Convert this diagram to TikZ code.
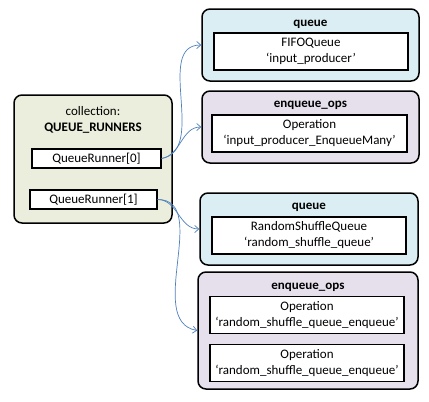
\documentclass[tikz,border=0pt]{standalone}
\usepackage{fontspec}
\setmainfont{Carlito}
\usetikzlibrary{arrows.meta}
\definecolor{collfill}{HTML}{EBEEDC}
\definecolor{queuefill}{HTML}{DAEEF3}
\definecolor{opsfill}{HTML}{E5E0EC}
\definecolor{linkblue}{HTML}{4F81BD}
\begin{document}
\begin{tikzpicture}[x=1pt, y=-1pt,
  every node/.style={font=\fontsize{13}{16}\selectfont},
  group/.style={draw, line width=1.5pt, rounded corners=8pt, inner sep=0pt},
  item/.style={draw, fill=white, line width=1.2pt, align=center, inner sep=0pt},
  title/.style={font=\fontsize{13}{16}\selectfont\bfseries},
  link/.style={-{Straight Barb[length=4pt,width=7pt]}, draw=linkblue, line width=0.7pt}]
  \useasboundingbox (0,0) rectangle (429,402);
  \fill[white] (0,0) rectangle (429,402);
  % left collection
  \node[group, fill=collfill, minimum width=158pt, minimum height=128pt] (coll) at (93,159) {};
  \node (colltitle) at (93,111) {collection:};
  \node[title] (collname) at (93,128) {QUEUE\_RUNNERS};
  \node[item, minimum width=129pt, minimum height=19pt] (qr0) at (96.5,158.5) {QueueRunner[0]};
  \node[item, minimum width=127pt, minimum height=19pt] (qr1) at (93.5,199.5) {QueueRunner[1]};
  % first runner
  \node[group, fill=queuefill, minimum width=217pt, minimum height=72pt] (queueA) at (310.5,45) {};
  \node[title] (queueAt) at (310.5,24) {queue};
  \node[item, minimum width=194pt, minimum height=37pt] (fifo) at (311,51.5)
    {FIFOQueue\\‘input\_producer’};
  \node[group, fill=opsfill, minimum width=217pt, minimum height=72pt] (enqA) at (310.5,127) {};
  \node[title] (enqAt) at (310.5,105) {enqueue\_ops};
  \node[item, minimum width=195pt, minimum height=37pt] (enqmany) at (309.5,133.5)
    {Operation\\‘input\_producer\_EnqueueMany’};
  % second runner
  \node[group, fill=queuefill, minimum width=218pt, minimum height=72pt] (queueB) at (309,229) {};
  \node[title] (queueBt) at (309,207) {queue};
  \node[item, minimum width=194pt, minimum height=37pt] (rsq) at (309,235.5)
    {RandomShuffleQueue\\‘random\_shuffle\_queue’};
  \node[group, fill=opsfill, minimum width=220pt, minimum height=117pt] (enqB) at (308,330.5) {};
  \node[title] (enqBt) at (308,287) {enqueue\_ops};
  \foreach \n/\y in {rsqenqA/315, rsqenqB/363}
    \node[item, minimum width=194pt, minimum height=37pt] (\n) at (307,\y)
      {Operation\\‘random\_shuffle\_queue\_enqueue’};
  % links
  \draw[link] (qr0.east) to[out=10, in=180] (queueA.west);
  \draw[link] (qr0.east) to[out=10, in=180] (enqA.west);
  \draw[link] (qr1.east) to[out=0, in=180] (queueB.west);
  \draw[link] (qr1.east) to[out=0, in=170] (enqB.west);
\end{tikzpicture}
\end{document}
